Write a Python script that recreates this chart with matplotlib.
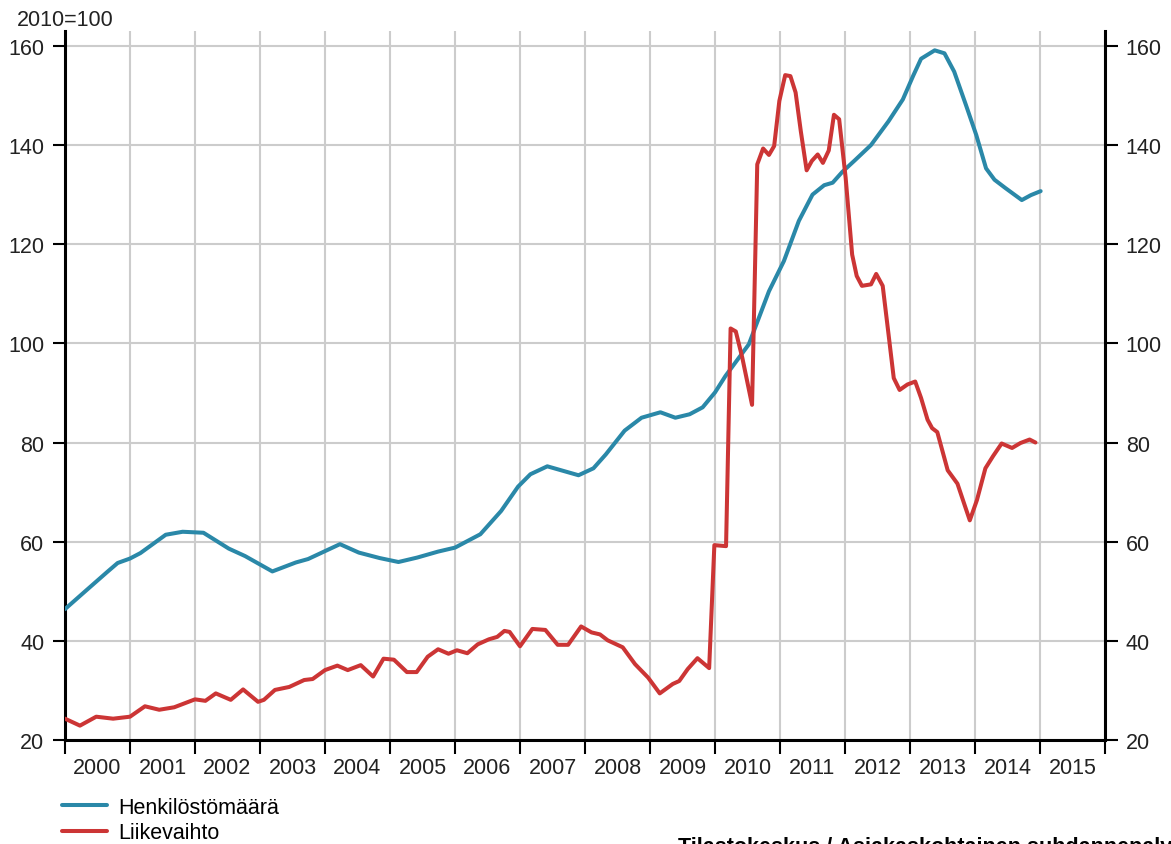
import matplotlib
matplotlib.use("Agg")
import matplotlib.pyplot as plt
import numpy as np

plt.rcParams['font.family'] = ['Liberation Sans', 'DejaVu Sans']

# Henkilöstömäärä (trend), 2010=100
blue_years = [2000.00, 2000.32, 2000.65, 2000.81, 2001.00, 2001.16, 2001.55, 2001.81,
              2002.13, 2002.52, 2002.77, 2003.19, 2003.55, 2003.74, 2004.23, 2004.52,
              2004.84, 2005.13, 2005.42, 2005.74, 2006.00, 2006.39, 2006.71, 2006.97,
              2007.16, 2007.42, 2007.90, 2008.13, 2008.32, 2008.61, 2008.87, 2009.16,
              2009.39, 2009.61, 2009.81, 2010.00, 2010.16, 2010.52, 2010.83, 2011.06,
              2011.29, 2011.50, 2011.68, 2011.81, 2011.96, 2012.15, 2012.40, 2012.67,
              2012.89, 2013.05, 2013.17, 2013.38, 2013.53, 2013.68, 2013.86, 2014.02,
              2014.17, 2014.30, 2014.47, 2014.72, 2014.86, 2015.01]
blue_values = [46.4, 50.1, 53.9, 55.7, 56.6, 57.7, 61.4, 62.0,
               61.8, 58.6, 57.1, 54.0, 55.8, 56.5, 59.5, 57.8,
               56.7, 55.9, 56.8, 58.0, 58.8, 61.5, 66.2, 71.1,
               73.6, 75.2, 73.4, 74.8, 77.6, 82.4, 85.0, 86.1,
               85.0, 85.7, 87.1, 90.1, 93.4, 99.8, 110.5, 116.6,
               124.7, 130.0, 131.9, 132.4, 134.6, 136.9, 140.0, 144.8,
               149.2, 154.0, 157.4, 159.1, 158.5, 154.8, 148.1, 142.0,
               135.3, 133.0, 131.3, 128.9, 129.9, 130.7]

# Liikevaihto, 2010=100
red_years = [2000.00, 2000.23, 2000.48, 2000.74, 2001.00, 2001.23, 2001.45, 2001.68,
             2002.00, 2002.16, 2002.32, 2002.55, 2002.74, 2002.97, 2003.06, 2003.23,
             2003.45, 2003.68, 2003.81, 2004.00, 2004.19, 2004.35, 2004.55, 2004.74,
             2004.90, 2005.06, 2005.26, 2005.41, 2005.58, 2005.74, 2005.90, 2006.03,
             2006.19, 2006.35, 2006.52, 2006.65, 2006.76, 2006.84, 2007.00, 2007.19,
             2007.39, 2007.58, 2007.74, 2007.94, 2008.10, 2008.23, 2008.35, 2008.58,
             2008.77, 2008.97, 2009.15, 2009.35, 2009.45, 2009.58, 2009.73, 2009.91,
             2009.99, 2010.17, 2010.24, 2010.32, 2010.42, 2010.57, 2010.65, 2010.74,
             2010.83, 2010.91, 2010.99, 2011.08, 2011.16, 2011.24, 2011.32, 2011.41,
             2011.49, 2011.58, 2011.66, 2011.75, 2011.83, 2011.91, 2012.01, 2012.11,
             2012.18, 2012.26, 2012.40, 2012.48, 2012.58, 2012.67, 2012.75, 2012.84,
             2012.96, 2013.08, 2013.17, 2013.27, 2013.34, 2013.42, 2013.58, 2013.73,
             2013.84, 2013.92, 2014.03, 2014.16, 2014.28, 2014.41, 2014.57, 2014.70,
             2014.84, 2014.93]
red_values = [24.3, 22.9, 24.7, 24.3, 24.7, 26.8, 26.1, 26.6,
              28.2, 27.9, 29.4, 28.1, 30.2, 27.7, 28.1, 30.1,
              30.7, 32.1, 32.3, 34.1, 35.0, 34.1, 35.1, 32.8,
              36.4, 36.2, 33.7, 33.7, 36.8, 38.3, 37.4, 38.1,
              37.5, 39.3, 40.3, 40.8, 42.0, 41.8, 38.9, 42.4,
              42.2, 39.2, 39.2, 42.9, 41.7, 41.3, 40.1, 38.7,
              35.3, 32.6, 29.4, 31.3, 31.9, 34.3, 36.5, 34.5,
              59.3, 59.1, 103.0, 102.4, 97.1, 87.6, 136.1, 139.3,
              138.0, 139.8, 148.9, 154.1, 153.9, 150.6, 142.8, 134.9,
              136.8, 138.1, 136.4, 138.9, 146.1, 145.2, 133.4, 117.9,
              113.6, 111.6, 111.9, 114.0, 111.6, 101.8, 93.0, 90.6,
              91.7, 92.3, 89.0, 84.6, 82.9, 82.1, 74.4, 71.7,
              67.4, 64.3, 68.4, 74.8, 77.3, 79.8, 78.9, 79.9,
              80.6, 80.0]

years = list(range(2000, 2016))
y_ticks = [20, 40, 60, 80, 100, 120, 140, 160]

blue = '#2a88a8'
red = '#cc3535'
fs = 15.5

fig = plt.figure(figsize=(11.71, 8.45), dpi=100)
ax = fig.add_axes([65 / 1171, 1 - 741 / 845, 1040 / 1171, 709 / 845])

ax.plot(blue_years, blue_values, color=blue, lw=2.9, solid_joinstyle='round',
        solid_capstyle='round', label='Henkilöstömäärä', zorder=3)
ax.plot(red_years, red_values, color=red, lw=2.9, solid_joinstyle='round',
        solid_capstyle='round', label='Liikevaihto', zorder=3)

ax.set_xlim(2000, 2016)
ax.set_ylim(20, 163)

# year boundaries as major ticks, year labels centred in between
ax.set_xticks(years + [2016])
ax.set_xticklabels([])
ax.set_xticks([y + 0.5 for y in years], minor=True)
ax.set_xticklabels([str(y) for y in years], minor=True)
ax.tick_params(axis='x', which='major', direction='out', length=10, width=1.5, color='black')
ax.tick_params(axis='x', which='minor', length=0, pad=12, labelsize=fs, labelcolor='#222222')

ax.set_yticks(y_ticks)
ax.tick_params(axis='y', direction='out', length=9, width=1.5, color='black',
               labelsize=fs, labelcolor='#222222', pad=6,
               left=True, right=True, labelleft=True, labelright=True)

ax.grid(True, which='major', color='#cccccc', lw=1.5, zorder=0)
ax.set_axisbelow(True)

for side in ['left', 'right', 'bottom']:
    ax.spines[side].set_linewidth(2.2)
    ax.spines[side].set_color('black')
ax.spines['top'].set_visible(False)

fig.text(17 / 1171, 1 - 26 / 845, '2010=100', fontsize=fs, color='#222222', va='baseline')

fig.legend(loc='upper left', bbox_to_anchor=(62 / 1171, 1 - 798 / 845), frameon=False,
           fontsize=fs, handlelength=2.1, handletextpad=0.5, labelspacing=0.2,
           borderpad=0, borderaxespad=0)

fig.text(678 / 1171, 1 - 837 / 845, 'Tilastokeskus / Asiakaskohtainen suhdannepalvelu',
         fontsize=fs, fontweight='bold', color='black', va='top')

fig.savefig('out.png', dpi=100)
